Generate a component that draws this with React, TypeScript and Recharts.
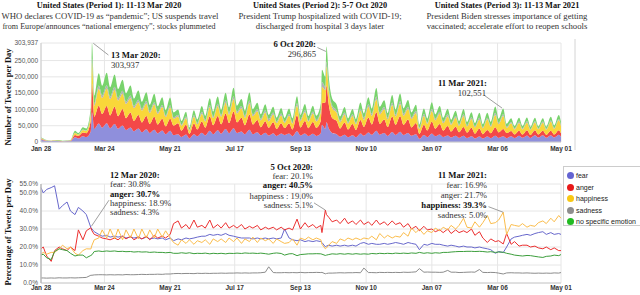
import React from 'react';
import {
  AreaChart,
  Area,
  LineChart,
  Line,
  XAxis,
  YAxis,
  CartesianGrid,
  ReferenceLine,
} from 'recharts';

// day 0 = 28 Jan 2020; one peak / one trough sample per week plus event days
const DAYS = [
  0, 2, 5, 9, 12, 16, 19, 23, 26, 30, 33, 37, 40, 44, 45,
  47, 51, 54, 58, 61, 65, 68, 72, 75, 79, 82, 86, 89, 93, 96, 100, 103, 107, 110, 114,
  117, 121, 124, 128, 131, 135, 138, 142, 145, 149, 152, 156, 159, 163, 166, 170, 173, 177, 180, 184,
  187, 191, 194, 198, 201, 205, 208, 212, 215, 219, 222, 226, 229, 233, 236, 240, 243, 247,
  248, 251, 252, 254, 257, 261, 264, 268, 271, 275, 278, 282, 285, 289, 292, 296, 299, 303,
  306, 310, 313, 317, 320, 324, 327, 331, 334, 338, 341, 345, 348, 352, 355, 359, 362, 366,
  369, 373, 376, 380, 383, 387, 390, 394, 397, 401, 404, 408, 411, 415, 418, 422, 425, 429,
  432, 436, 439, 443, 446, 450, 453, 457, 459,
];

// tweets per day, thousands
const TOTAL_K = [
  14, 10, 6, 5, 5, 6, 4, 5, 6, 38, 26, 45, 40, 108, 303.937,
  140, 210, 168, 216, 165, 212, 160, 195, 148, 176, 132, 162, 122, 155, 114, 150, 108, 140, 98, 138,
  90, 98, 64, 92, 45, 95, 68, 108, 78, 128, 90, 134, 95, 144, 102, 162, 108, 130, 94, 150,
  98, 119, 84, 114, 80, 108, 74, 103, 72, 103, 72, 139, 82, 114, 78, 110, 80, 118,
  236, 200, 296.865, 200, 135, 115, 78, 105, 72, 100, 70, 118, 84, 135, 100, 162, 104, 124,
  86, 139, 96, 144, 100, 124, 86, 110, 52, 100, 70, 119, 82, 108, 72, 98, 66, 93,
  62, 93, 60, 88, 56, 86, 54, 88, 62, 114, 72, 102.551, 58, 73, 48, 75, 48, 75,
  47, 75, 48, 72, 47, 75, 50, 80, 60,
];

// share of tweets per emotion, %
const FEAR = [
  53, 50, 52, 53, 54, 41, 43, 45, 40, 38, 42, 40, 38, 30.8, 30,
  28.5, 27, 26, 26.5, 25.5, 26, 25.5, 26, 25, 25.5, 25, 25.5, 24.5, 25.5, 24.5, 25, 24.5, 25, 24, 25,
  23.5, 24.5, 24, 25, 24.5, 25, 25.5, 26, 26, 27, 26.5, 27, 26.5, 27.5, 26.5, 26, 25.5, 25, 25, 25,
  24.5, 25, 24.5, 25, 24.5, 25, 24.5, 25, 30, 25, 24, 23.5, 24, 23, 23.5, 23, 23.5, 23,
  22.5, 20.1, 20.5, 21, 20.5, 21, 20.5, 21, 20.5, 21, 20.5, 22, 22.5, 21.5, 22, 21.5, 21.5, 22,
  21.5, 22, 22.5, 22, 21.5, 22.5, 22, 21.5, 18.5, 21.5, 21, 22, 21.5, 21.5, 21, 20.5, 21, 20.5,
  20, 20.5, 20, 20, 19.5, 20, 19.5, 19, 18.5, 16.5, 17.5, 16.9, 20, 24.5, 25.5, 26, 26.5, 27,
  26.5, 27.5, 28, 28.5, 27, 28, 27, 27.5, 27,
];
const ANGER = [
  19, 20, 15, 12, 18, 20, 19, 18, 20, 18, 29.5, 24, 29, 30.7, 29,
  27, 26, 25, 24.5, 24, 25, 24, 26, 24.5, 26, 24, 25.5, 24.5, 26, 24, 26.5, 25, 26, 25, 27,
  33, 34.5, 30.5, 32.5, 30, 35, 31, 32, 30.5, 35, 30.5, 32.5, 30.5, 33.5, 30.5, 32, 30.5, 32.5, 30, 31.5,
  30.5, 32, 29.5, 31, 30, 31, 29.5, 31, 29.5, 30.5, 29.5, 35.5, 30, 33.5, 31, 32.5, 30.5, 32,
  28, 40.5, 38, 36.5, 34, 35, 33, 36, 33, 34.5, 32.5, 35, 32.5, 34, 32, 35, 32.5, 34,
  32, 34.5, 32.5, 33.5, 31, 33, 30, 31.5, 29, 31.5, 29.5, 30, 28.5, 29.5, 28, 30, 27.5, 29.5,
  28, 29, 28, 30, 26.5, 28.5, 25, 22.5, 24.5, 23, 23.5, 21.7, 27.5, 21.5, 23, 20.5, 21, 21,
  20, 20.5, 19.5, 19, 20, 18.5, 19.5, 18, 18,
];
const HAPPINESS = [
  16, 17, 16, 17, 17, 19, 21, 19, 20, 16.5, 15.5, 18, 19, 18.9, 21,
  24, 25, 29.5, 25, 30, 24.5, 30, 24, 29.5, 25, 30, 24.5, 30, 25, 29.5, 25, 30, 25.5, 29, 25,
  22.5, 21, 24, 22, 24, 21.5, 23.5, 22.5, 24, 21.5, 24.5, 23, 24.5, 22.5, 25, 23, 25, 22, 24.5, 23,
  25.5, 22.5, 25, 23.5, 24.5, 22, 24.5, 23, 22, 22.5, 24.5, 21, 25, 24, 25.5, 24, 25, 24,
  21.5, 19, 19.5, 21, 23, 22, 24.5, 23.5, 25, 24, 25, 24, 25, 24.5, 26, 24, 27.5, 25,
  26.5, 25, 26, 25.5, 28, 26, 30.5, 28, 30, 27, 29, 28, 30.5, 29, 31, 29.5, 32, 30,
  32, 36, 31, 30.5, 34, 31, 33.5, 37.5, 33, 33.5, 35, 39.3, 27, 32.5, 32, 31.5, 33, 31,
  32, 31.5, 33.5, 34.5, 33, 36, 34, 37.5, 36,
];
const SADNESS = [
  2.8, 2.8, 2.7, 2.8, 2.7, 2.9, 2.8, 2.8, 2.9, 2.8, 2.9, 3.0, 3.1, 4.3, 4.3,
  4.5, 4.6, 4.6, 4.5, 4.6, 4.5, 4.6, 4.5, 4.7, 4.6, 4.6, 4.7, 4.8, 4.7, 4.8, 4.8, 4.9, 4.8, 5.0, 5.0,
  5.2, 5.3, 5.2, 5.3, 5.3, 5.2, 5.4, 5.3, 5.4, 5.3, 5.4, 5.4, 5.5, 5.4, 5.5, 5.5, 5.6, 5.5, 5.6, 5.5,
  5.6, 5.6, 5.7, 6.0, 9.0, 5.8, 5.7, 5.7, 5.8, 5.7, 5.8, 5.7, 5.9, 5.7, 5.8, 5.8, 5.9, 5.8,
  5.9, 5.1, 5.3, 5.5, 5.5, 5.6, 5.7, 5.6, 5.7, 5.7, 5.8, 5.7, 8.3, 5.8, 5.8, 5.7, 5.9, 5.8,
  5.9, 5.8, 5.9, 5.8, 6.0, 5.9, 6.0, 6.2, 8.0, 6.0, 6.1, 6.0, 6.0, 5.9, 6.0, 7.0, 6.0, 6.0,
  5.8, 5.9, 6.0, 6.1, 6.0, 7.5, 5.9, 5.8, 5.9, 5.8, 5.5, 5.0, 5.6, 5.7, 5.6, 5.6, 5.5, 5.6,
  5.5, 5.4, 5.5, 5.4, 5.5, 5.4, 5.6, 5.5, 5.8,
];
const NO_EMOTION = [
  15.5, 16, 14, 13, 17.5, 19, 18.5, 18, 16.5, 15, 15.5, 15.5, 14, 15.3, 15.7,
  17.5, 17.8, 17.5, 17.8, 17.6, 17.8, 17.5, 17.6, 17.4, 17.5, 17.2, 17.4, 17.2, 17.3, 17, 17.2, 17, 17, 16.8, 17,
  16.5, 16.5, 16.8, 16.5, 16.8, 16.3, 16.5, 16.4, 16.6, 16.2, 16.5, 16.3, 16.5, 16.2, 16.5, 16.4, 16.6, 16.4, 16.7, 16.5,
  16.6, 16.4, 16.6, 16.3, 16, 16.5, 16.7, 16.4, 15.5, 16.2, 16.3, 15.2, 15.8, 16, 16.2, 16.2, 16.3, 16.2,
  16, 15.3, 15.5, 15.8, 16.2, 16, 16.3, 16, 16.3, 16, 16.3, 16, 16.2, 16, 16.4, 16.2, 16.5, 16.3,
  16.5, 16.3, 16.6, 16.4, 16.6, 16.4, 16.7, 16.5, 17, 16.5, 16.8, 16.5, 16.8, 16.6, 17, 17, 17.2, 17.4,
  17.5, 17.5, 17.6, 17.6, 17.5, 17.6, 17.5, 17.2, 17.4, 17, 17.2, 17.1, 16.5, 16, 15.5, 15.2, 15, 15.3,
  15.2, 14.8, 14.5, 14.2, 14.8, 15, 15.5, 15.2, 15.8,
];

const X_TICKS = [0, 56, 114, 171, 229, 287, 345, 403, 459];
const X_TICK_LABELS = ['Jan 28', 'Mar 24', 'May 21', 'Jul 17', 'Sep 13', 'Nov 10', 'Jan 07', 'Mar 06', 'May 01'];
const COUNT_TICKS = [0, 50000, 100000, 150000, 200000, 250000, 303937];
const PCT_TICKS = [0, 10, 20, 30, 40, 50, 55];
const EVENT_DAYS = [45, 252, 408];

const SERIES = [
  { key: 'fear', values: FEAR, area: '#8f8fdc', line: '#6868cc', dot: '#6464d2' },
  { key: 'anger', values: ANGER, area: '#f34848', line: '#ec3030', dot: '#e81818' },
  { key: 'happiness', values: HAPPINESS, area: '#f9d73a', line: '#fbbd4c', dot: '#f8c814' },
  { key: 'sadness', values: SADNESS, area: '#b2b2b2', line: '#8c8c8c', dot: '#8e8e8e' },
  { key: 'no specific emotion', values: NO_EMOTION, area: '#78d36c', line: '#3c9e3c', dot: '#22bb22' },
];

const rows = DAYS.map((day, i) => {
  const row: Record<string, number> = { day };
  SERIES.forEach((s) => {
    row[s.key] = s.values[i];
    row[s.key + '_n'] = (TOTAL_K[i] * 1000 * s.values[i]) / 100;
  });
  return row;
});

const SANS = 'Arial, "Liberation Sans", sans-serif';
const SERIF = '"Times New Roman", "Liberation Serif", serif';
const dayLabel = (v: number) => X_TICK_LABELS[X_TICKS.indexOf(v)] ?? '';
const tickX = { fontSize: 6.5, fill: '#333', fontWeight: 700, fontFamily: SANS };
const tickY = { fontSize: 6.5, fill: '#555', fontFamily: SANS };
const leader = { stroke: '#777', strokeWidth: 0.7 };

const TopChart = () => (
  <AreaChart width={640} height={160} data={rows} margin={{ top: 43, right: 79, bottom: 4, left: 0 }}>
    <CartesianGrid stroke="#e6e6e6" />
    <XAxis
      dataKey="day"
      type="number"
      domain={[0, 459]}
      ticks={X_TICKS}
      interval={0}
      tickFormatter={dayLabel}
      tick={tickX}
      tickLine={false}
      tickSize={2}
      tickMargin={2}
      height={14}
      axisLine={{ stroke: '#ccc' }}
    />
    <YAxis
      type="number"
      domain={[0, 303937]}
      ticks={COUNT_TICKS}
      interval={0}
      tickFormatter={(v: number) => v.toLocaleString('en-US')}
      tick={tickY}
      tickLine={false}
      tickSize={1}
      tickMargin={2}
      width={41}
      axisLine={{ stroke: '#ccc' }}
    />
    {SERIES.map((s) => (
      <Area
        key={s.key}
        type="monotone"
        dataKey={s.key + '_n'}
        stackId="all"
        stroke="none"
        fill={s.area}
        fillOpacity={1}
        isAnimationActive={false}
      />
    ))}
    <ReferenceLine segment={[{ x: 46.2, y: 303000 }, { x: 59.5, y: 267000 }]} {...leader} />
    <ReferenceLine segment={[{ x: 244, y: 290000 }, { x: 251.5, y: 278000 }]} {...leader} />
    <ReferenceLine segment={[{ x: 391, y: 144000 }, { x: 407, y: 104000 }]} {...leader} />
  </AreaChart>
);

const BottomChart = () => (
  <LineChart width={640} height={145} data={rows} margin={{ top: 34, right: 79, bottom: 2, left: 0 }}>
    <CartesianGrid stroke="#e6e6e6" />
    <XAxis
      dataKey="day"
      type="number"
      domain={[0, 459]}
      ticks={X_TICKS}
      interval={0}
      tickFormatter={dayLabel}
      tick={tickX}
      tickLine={false}
      tickSize={1}
      tickMargin={1}
      height={10}
      axisLine={{ stroke: '#ccc' }}
    />
    <YAxis
      type="number"
      domain={[0, 55]}
      ticks={PCT_TICKS}
      interval={0}
      tickFormatter={(v: number) => v.toFixed(1) + '%'}
      tick={tickY}
      tickLine={false}
      tickSize={1}
      tickMargin={2}
      width={41}
      axisLine={{ stroke: '#bbb', strokeWidth: 1.5 }}
    />
    {SERIES.map((s) => (
      <Line
        key={s.key}
        type="linear"
        dataKey={s.key}
        stroke={s.line}
        strokeWidth={1}
        dot={false}
        isAnimationActive={false}
      />
    ))}
    <ReferenceLine segment={[{ x: 60, y: 46 }, { x: 44.5, y: 31.5 }]} {...leader} />
    <ReferenceLine segment={[{ x: 241, y: 44.5 }, { x: 251, y: 40.5 }]} {...leader} />
    <ReferenceLine segment={[{ x: 395, y: 42.4 }, { x: 408, y: 39.3 }]} {...leader} />
  </LineChart>
);

// transparent layer spanning both panels, only for the event lines
const EventLines = () => (
  <LineChart width={640} height={295} data={rows} margin={{ top: 30, right: 79, bottom: 3, left: 41 }}>
    <XAxis dataKey="day" type="number" domain={[0, 459]} hide />
    <YAxis type="number" domain={[0, 1]} hide />
    {EVENT_DAYS.map((d) => (
      <ReferenceLine key={d} x={d} stroke="#333" strokeWidth={1} strokeDasharray="3 2" />
    ))}
  </LineChart>
);

const Legend = () => (
  <div
    style={{
      position: 'absolute',
      left: 563,
      top: 166,
      width: 90,
      height: 60,
      border: '1px solid #ccc',
      background: '#fff',
      boxSizing: 'border-box',
      padding: '3px 0 0 3px',
      fontFamily: SANS,
      fontSize: 7,
      color: '#222',
    }}
  >
    {SERIES.map((s) => (
      <div key={s.key} style={{ display: 'flex', alignItems: 'center', height: 11.5 }}>
        <span
          style={{ width: 7, height: 7, borderRadius: '50%', background: s.dot, marginRight: 2, flex: 'none' }}
        />
        {s.key}
      </div>
    ))}
  </div>
);

const T = (props: any) => <text fontFamily={SERIF} fontSize={8.7} fill="#333" {...props} />;
const B = (props: any) => <T fontWeight={700} fill="#111" {...props} />;

const Notes = () => (
  <svg width={640} height={295} style={{ position: 'absolute', left: 0, top: 0, pointerEvents: 'none' }}>
    <g textAnchor="middle">
      <B x={109} y={8} fontSize={8.3}>United States (Period 1): 11-13 Mar 2020</B>
      <T x={110} y={18.5}>WHO declares COVID-19 as “pandemic”; US suspends travel</T>
      <T x={109} y={28.5} fontSize={8.1}>from Europe/announces “national emergency”; stocks plummeted</T>
      <B x={320} y={8} fontSize={8.3}>United States (Period 2): 5-7 Oct 2020</B>
      <T x={320} y={18.5}>President Trump hospitalized with COVID-19;</T>
      <T x={320} y={28.5}>discharged from hospital 3 days later</T>
      <B x={507} y={8} fontSize={8.3}>United States (Period 3): 11-13 Mar 2021</B>
      <T x={507} y={18.5}>President Biden stresses importance of getting</T>
      <T x={507} y={28.5}>vaccinated; accelerate effort to reopen schools</T>
    </g>
    <B x={111} y={58}>13 Mar 2020:</B>
    <T x={111} y={68}>303,937</T>
    <g textAnchor="end">
      <B x={316} y={47}>6 Oct 2020:</B>
      <T x={316} y={57}>296,865</T>
      <B x={487} y={86}>11 Mar 2021:</B>
      <T x={486} y={96}>102,551</T>
    </g>
    <B x={110} y={178}>12 Mar 2020:</B>
    <T x={110} y={187.3}>fear: 30.8%</T>
    <B x={110} y={196.5}>anger: 30.7%</B>
    <T x={110} y={205.6}>happiness: 18.9%</T>
    <T x={110} y={214.8}>sadness: 4.3%</T>
    <g textAnchor="end">
      <B x={313} y={169.7}>5 Oct 2020:</B>
      <T x={313} y={179}>fear: 20.1%</T>
      <B x={313} y={188.2}>anger: 40.5%</B>
      <T x={313} y={198.6}>happiness : 19.0%</T>
      <T x={313} y={208}>sadness: 5.1%</T>
      <B x={487} y={178}>11 Mar 2021:</B>
      <T x={487} y={188}>fear: 16.9%</T>
      <T x={487} y={198}>anger: 21.7%</T>
      <B x={487} y={208}>happiness: 39.3%</B>
      <T x={487} y={218}>sadness: 5.0%</T>
    </g>
    <B transform="translate(11,97) rotate(-90)" textAnchor="middle" fontSize={8.5}>
      Number of Tweets per Day
    </B>
    <B transform="translate(11,232) rotate(-90)" textAnchor="middle" fontSize={8.5}>
      Percentage of Tweets per Day
    </B>
    <line x1={575} y1={39} x2={575} y2={150} stroke="#d4d4d4" strokeWidth={1} />
  </svg>
);

export default function App() {
  return (
    <div style={{ position: 'absolute', left: 0, top: 0, width: 640, height: 295, overflow: 'hidden', background: '#fff' }}>
      <div style={{ position: 'absolute', left: 0, top: 0 }}>
        <TopChart />
      </div>
      <div style={{ position: 'absolute', left: 0, top: 150 }}>
        <BottomChart />
      </div>
      <div style={{ position: 'absolute', left: 0, top: 0, pointerEvents: 'none' }}>
        <EventLines />
      </div>
      <Legend />
      <Notes />
    </div>
  );
}
